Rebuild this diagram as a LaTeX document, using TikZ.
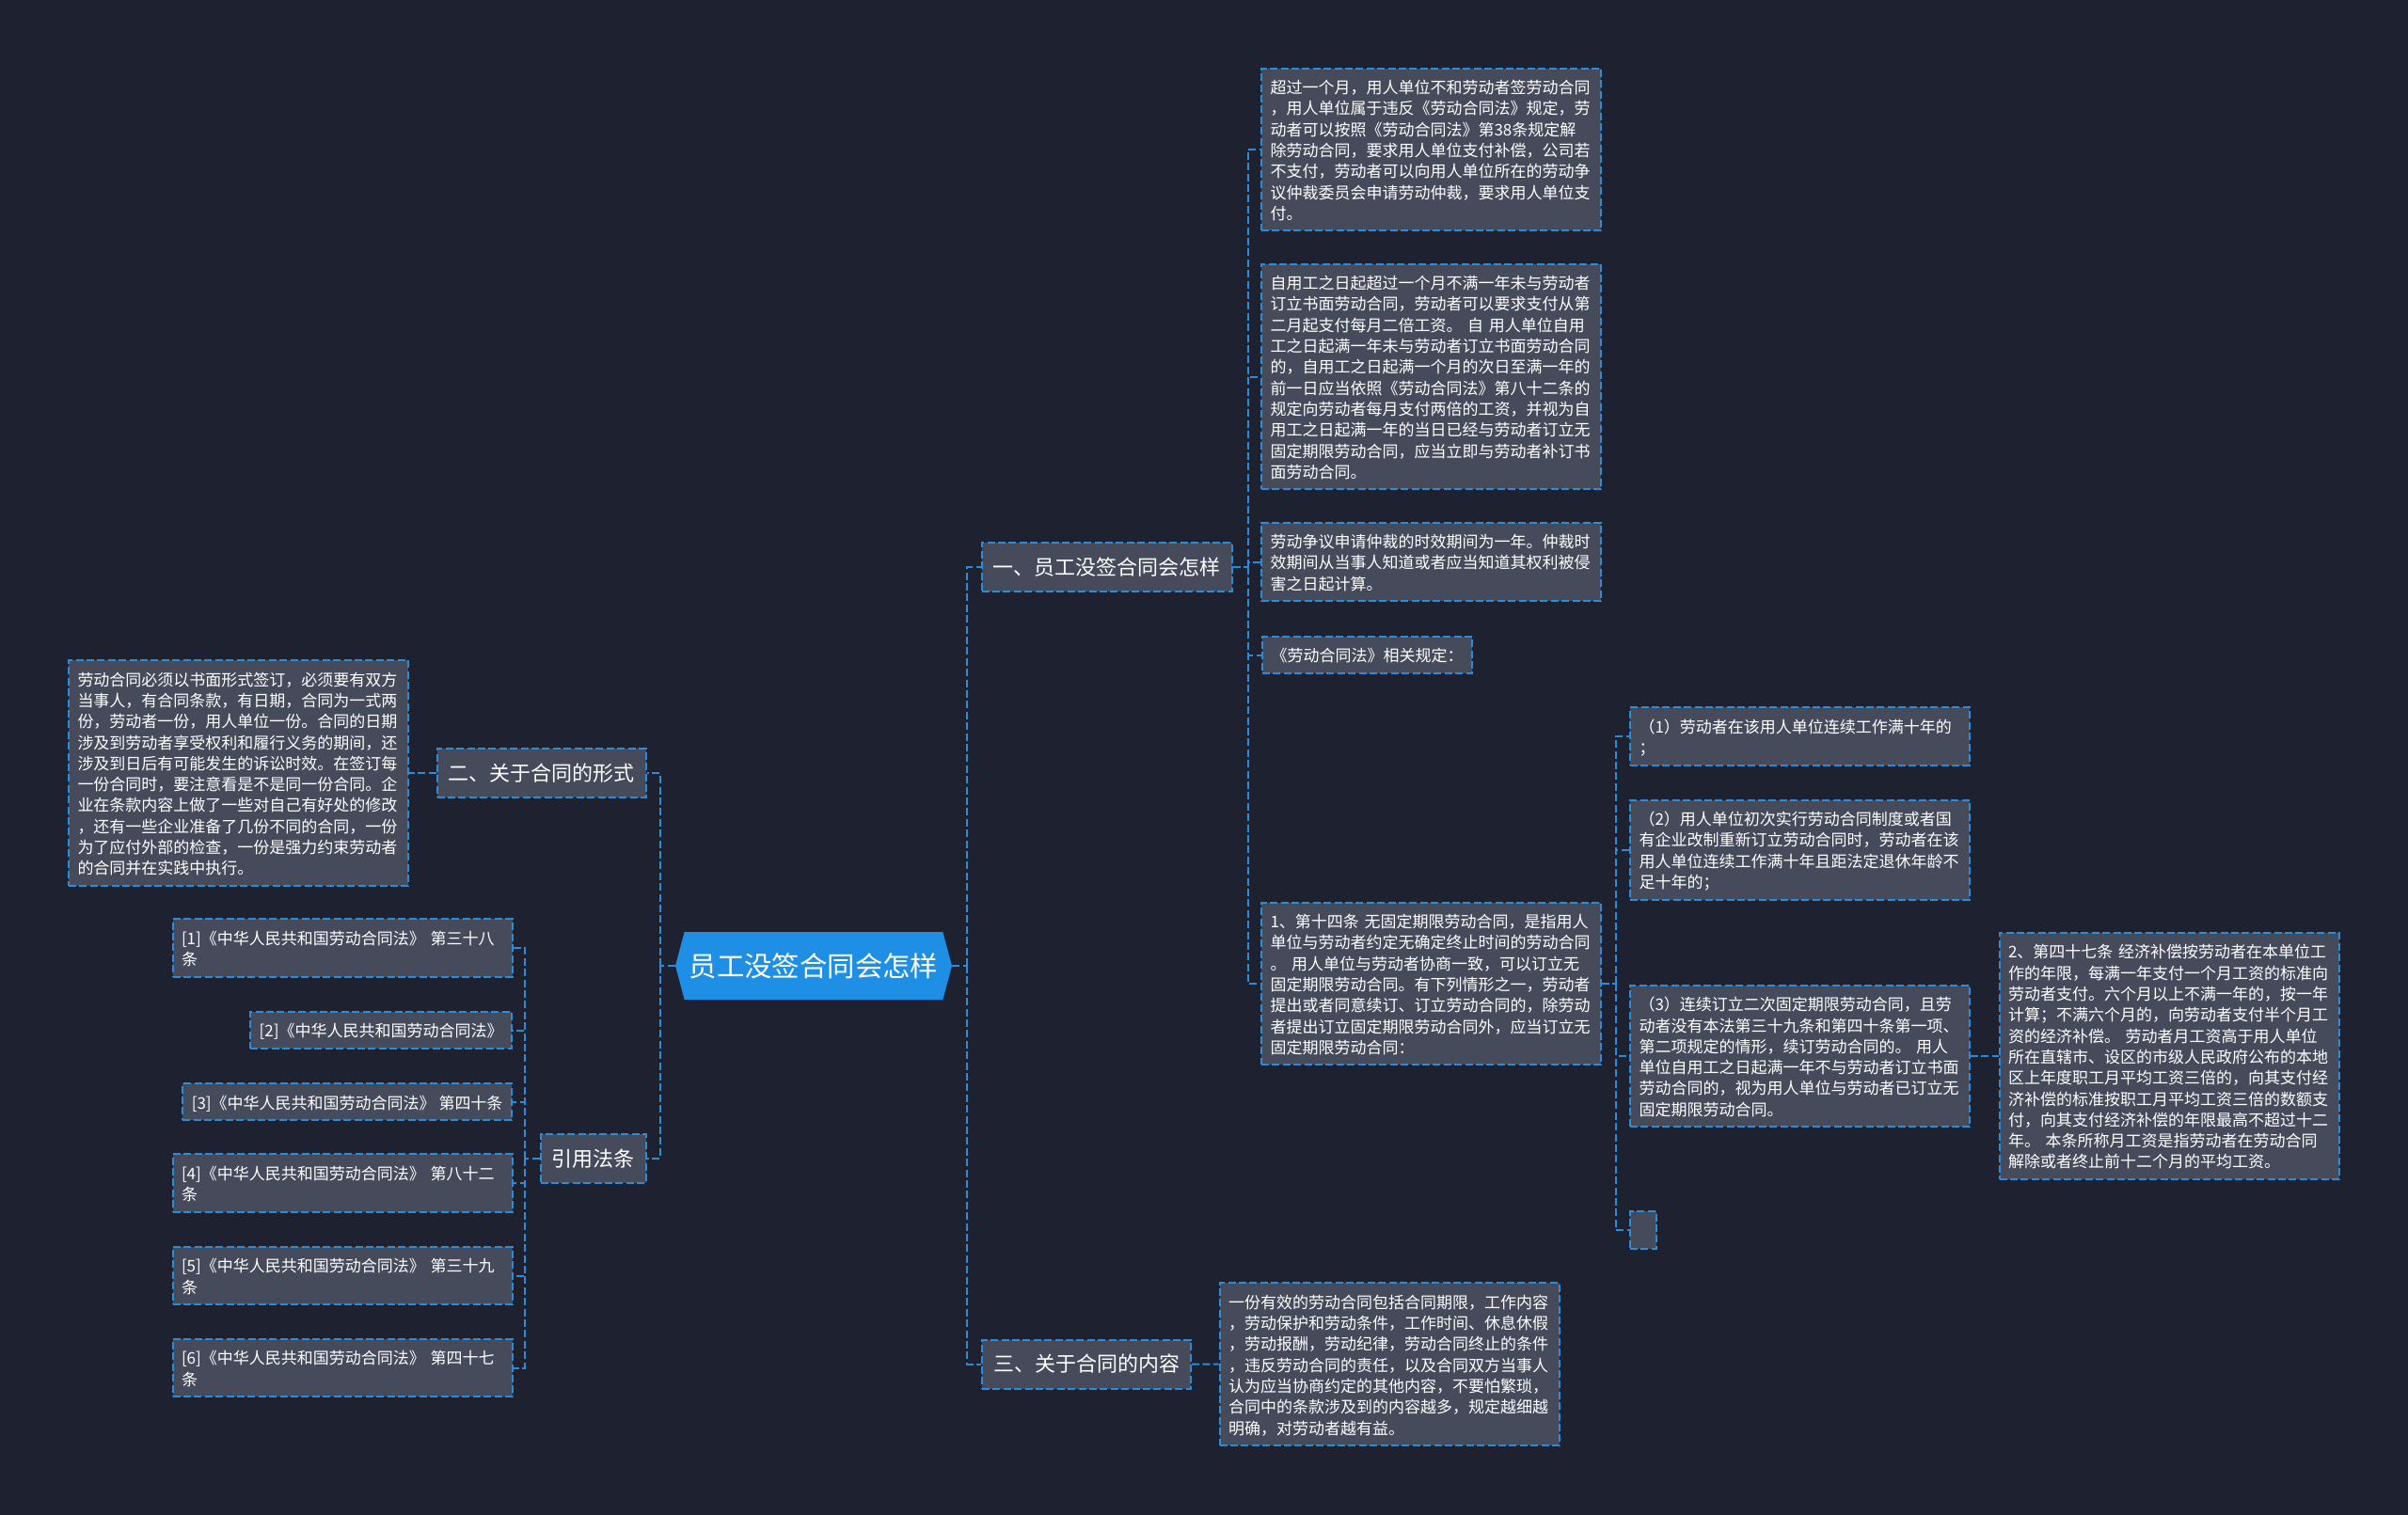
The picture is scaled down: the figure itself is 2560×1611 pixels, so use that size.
\documentclass[tikz,border=0pt]{standalone}
\usepackage{fontspec}
\setmainfont{Noto Sans CJK SC}
\usetikzlibrary{shapes.symbols}

\definecolor{bgdark}{HTML}{1E2230}
\definecolor{boxgray}{HTML}{454B5B}
\definecolor{linkblue}{HTML}{2B8CD8}
\definecolor{rootblue}{HTML}{1F8FE6}

\begin{document}
\begin{tikzpicture}[x=0.5pt,y=-0.5pt,
    link/.style={draw=linkblue,line width=1pt,dash pattern=on 4pt off 1.7pt},
    card/.style={link,fill=boxgray,text=white,align=left,inner xsep=4.75pt,inner ysep=4.2pt,
        font=\fontsize{8.5pt}{11.15pt}\selectfont,
        execute at begin node={\rule{0pt}{9.3pt}},execute at end node={\rule[-1.85pt]{0pt}{1.85pt}}},
    leaf/.style={card,text width=171pt},
    branch/.style={link,fill=boxgray,text=white,font=\fontsize{11pt}{13pt}\selectfont,
        inner xsep=6pt,minimum height=26pt},
    rootnode/.style={signal,signal to=east and west,signal pointer angle=150,fill=rootblue,
        text=white,font=\fontsize{14.7pt}{17pt}\selectfont,minimum width=147pt,minimum height=36pt,inner sep=0pt}]
    \fill[bgdark] (0,0) rectangle (2560,1611);
    \useasboundingbox (0,0) rectangle (2560,1611);

    \node[rootnode] (root) at (865,1027) {员工没签合同会怎样};

    \node[branch] (b1) at (1176.5,603) {一、员工没签合同会怎样};
    \node[branch] (b2) at (575.5,822) {二、关于合同的形式};
    \node[branch] (bref) at (630.5,1232) {引用法条};
    \node[branch] (b3) at (1155,1450.5) {三、关于合同的内容};

    \node[leaf] (l1a) at (1521.5,159) {超过一个月，用人单位不和劳动者签劳动合同\\，用人单位属于违反《劳动合同法》规定，劳\\动者可以按照《劳动合同法》第38条规定解\\除劳动合同，要求用人单位支付补偿，公司若\\不支付，劳动者可以向用人单位所在的劳动争\\议仲裁委员会申请劳动仲裁，要求用人单位支\\付。};
    \node[leaf] (l1b) at (1521.5,400.5) {自用工之日起超过一个月不满一年未与劳动者\\订立书面劳动合同，劳动者可以要求支付从第\\二月起支付每月二倍工资。 自 用人单位自用\\工之日起满一年未与劳动者订立书面劳动合同\\的，自用工之日起满一个月的次日至满一年的\\前一日应当依照《劳动合同法》第八十二条的\\规定向劳动者每月支付两倍的工资，并视为自\\用工之日起满一年的当日已经与劳动者订立无\\固定期限劳动合同，应当立即与劳动者补订书\\面劳动合同。};
    \node[leaf] (l1c) at (1521.5,597.5) {劳动争议申请仲裁的时效期间为一年。仲裁时\\效期间从当事人知道或者应当知道其权利被侵\\害之日起计算。};
    \node[card,anchor=west] (l1d) at (1341,696.5) {《劳动合同法》相关规定：};
    \node[leaf] (l1e) at (1521.5,1046) {1、第十四条 无固定期限劳动合同，是指用人\\单位与劳动者约定无确定终止时间的劳动合同\\。 用人单位与劳动者协商一致，可以订立无\\固定期限劳动合同。有下列情形之一，劳动者\\提出或者同意续订、订立劳动合同的，除劳动\\者提出订立固定期限劳动合同外，应当订立无\\固定期限劳动合同：};

    \node[leaf] (s1) at (1913.5,783) {（1）劳动者在该用人单位连续工作满十年的\\；};
    \node[leaf] (s2) at (1913.5,903.5) {（2）用人单位初次实行劳动合同制度或者国\\有企业改制重新订立劳动合同时，劳动者在该\\用人单位连续工作满十年且距法定退休年龄不\\足十年的；};
    \node[leaf] (s3) at (1913.5,1123) {（3）连续订立二次固定期限劳动合同，且劳\\动者没有本法第三十九条和第四十条第一项、\\第二项规定的情形，续订劳动合同的。 用人\\单位自用工之日起满一年不与劳动者订立书面\\劳动合同的，视为用人单位与劳动者已订立无\\固定期限劳动合同。};
    \node[card,minimum width=14pt] (s4) at (1747,1308) {};

    \node[leaf] (l2) at (2306,1123) {2、第四十七条 经济补偿按劳动者在本单位工\\作的年限，每满一年支付一个月工资的标准向\\劳动者支付。六个月以上不满一年的，按一年\\计算；不满六个月的，向劳动者支付半个月工\\资的经济补偿。 劳动者月工资高于用人单位\\所在直辖市、设区的市级人民政府公布的本地\\区上年度职工月平均工资三倍的，向其支付经\\济补偿的标准按职工月平均工资三倍的数额支\\付，向其支付经济补偿的年限最高不超过十二\\年。 本条所称月工资是指劳动者在劳动合同\\解除或者终止前十二个月的平均工资。};

    \node[leaf] (form) at (253.5,822) {劳动合同必须以书面形式签订，必须要有双方\\当事人，有合同条款，有日期，合同为一式两\\份，劳动者一份，用人单位一份。合同的日期\\涉及到劳动者享受权利和履行义务的期间，还\\涉及到日后有可能发生的诉讼时效。在签订每\\一份合同时，要注意看是不是同一份合同。企\\业在条款内容上做了一些对自己有好处的修改\\，还有一些企业准备了几份不同的合同，一份\\为了应付外部的检查，一份是强力约束劳动者\\的合同并在实践中执行。};

    \node[leaf] (r1) at (364,1008) {[1]《中华人民共和国劳动合同法》 第三十八\\条};
    \node[card,anchor=east] (r2) at (545,1095.5) {[2]《中华人民共和国劳动合同法》};
    \node[card,anchor=east] (r3) at (545,1171.7) {[3]《中华人民共和国劳动合同法》 第四十条};
    \node[leaf] (r4) at (364,1258) {[4]《中华人民共和国劳动合同法》 第八十二\\条};
    \node[leaf] (r5) at (364,1356.5) {[5]《中华人民共和国劳动合同法》 第三十九\\条};
    \node[leaf] (r6) at (364,1454.5) {[6]《中华人民共和国劳动合同法》 第四十七\\条};

    \node[leaf] (terms) at (1477,1450.7) {一份有效的劳动合同包括合同期限，工作内容\\，劳动保护和劳动条件，工作时间、休息休假\\，劳动报酬，劳动纪律，劳动合同终止的条件\\，违反劳动合同的责任，以及合同双方当事人\\认为应当协商约定的其他内容，不要怕繁琐，\\合同中的条款涉及到的内容越多，规定越细越\\明确，对劳动者越有益。};

    \coordinate (rr) at ([xshift=8pt]root.east);
    \coordinate (rl) at ([xshift=-8pt]root.west);
    \coordinate (k1) at ([xshift=8pt]b1.east);
    \coordinate (k2) at ([xshift=7.5pt]l1e.east);
    \coordinate (k3) at ([xshift=-8pt]bref.west);

    \draw[link] (root.east) -- (rr);
    \draw[link] (rr) |- (b1.west);
    \draw[link] (rr) |- (b3.west);
    \draw[link] (root.west) -- (rl);
    \draw[link] (rl) |- (b2.east);
    \draw[link] (rl) |- (bref.east);

    \draw[link] (b1.east) -- (k1);
    \foreach \c in {l1a,l1b,l1c,l1d,l1e}
        \draw[link] (k1) |- (\c.west);

    \draw[link] (l1e.east) -- (k2);
    \foreach \c in {s1,s2,s3,s4}
        \draw[link] (k2) |- (\c.west);
    \draw[link] (s3.east) -- (l2.west);

    \draw[link] (b2.west) -- (form.east);

    \draw[link] (bref.west) -- (k3);
    \foreach \c in {r1,r2,r3,r4,r5,r6}
        \draw[link] (k3) |- (\c.east);

    \draw[link] (b3.east) -- (terms.west);
\end{tikzpicture}
\end{document}
